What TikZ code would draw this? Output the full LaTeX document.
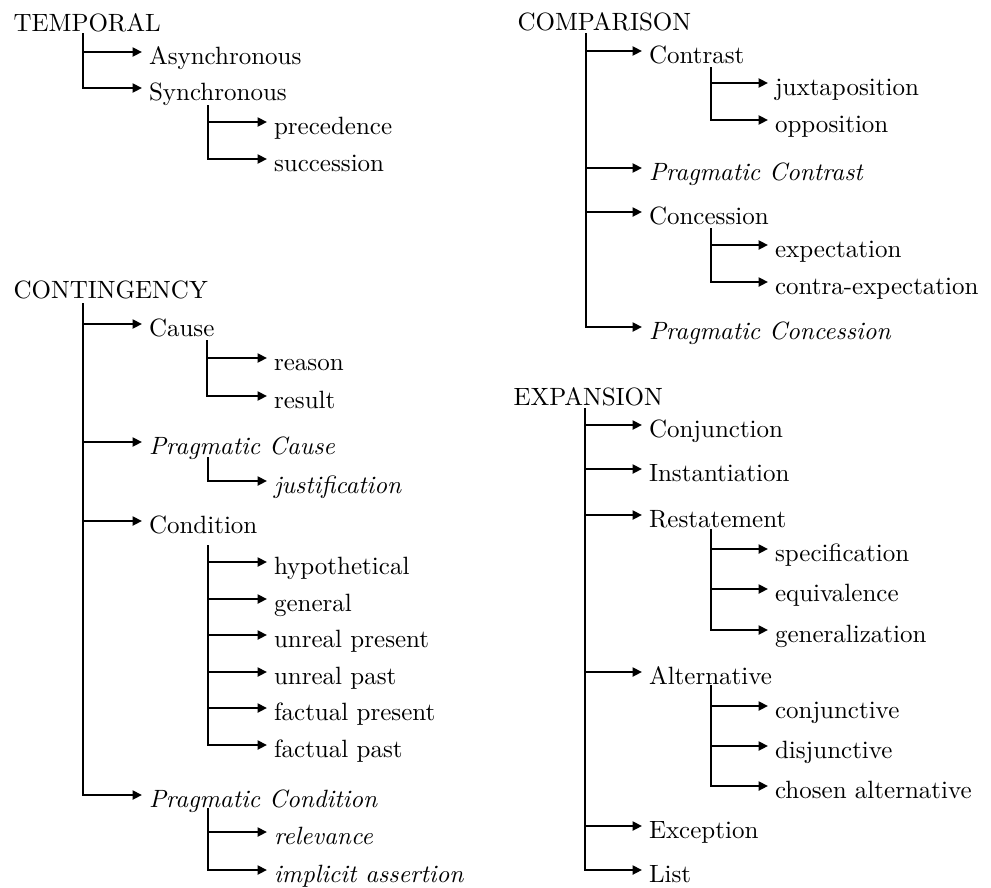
\documentclass[tikz,border=0pt]{standalone}
\usetikzlibrary{arrows.meta}
\begin{document}
\begin{tikzpicture}[x=0.4pt,y=-0.4pt,
  root/.style={anchor=base west, inner sep=0pt},
  lbl/.style={anchor=west, inner xsep=2.6pt, inner ysep=0pt, text height=9.6pt, text depth=0pt},
  link/.style={line width=1pt, -{Triangle[length=3.8pt,width=3.6pt]}}]
\useasboundingbox (0,0) rectangle (991,887);
% TEMPORAL
\node[root] (tem) at (13,31) {TEMPORAL};
\coordinate (temT) at (83,33);
\node[lbl] (asyn) at (142,52) {Asynchronous};
\node[lbl] (syn) at (142,88) {Synchronous};
\coordinate (synT) at (208,105);
\node[lbl] (prec) at (267,122) {precedence};
\node[lbl] (succ) at (267,159) {succession};
\foreach \n in {asyn,syn} \draw[link] (temT) |- (\n.west);
\foreach \n in {prec,succ} \draw[link] (synT) |- (\n.west);
% CONTINGENCY
\node[root] (con) at (13,298) {CONTINGENCY};
\coordinate (conT) at (83,303);
\node[lbl] (cause) at (142,324) {Cause};
\coordinate (causeT) at (207,340);
\node[lbl] (reason) at (267,358) {reason};
\node[lbl] (result) at (267,396) {result};
\node[lbl] (pcause) at (142,442) {\textit{Pragmatic Cause}};
\coordinate (pcauseT) at (208,457);
\node[lbl] (justif) at (267,481) {\textit{justification}};
\node[lbl] (cond) at (142,521) {Condition};
\coordinate (condT) at (208,545);
\node[lbl] (hyp) at (267,562) {hypothetical};
\node[lbl] (gen) at (267,599) {general};
\node[lbl] (urpres) at (267,635) {unreal present};
\node[lbl] (urpast) at (267,672) {unreal past};
\node[lbl] (fpres) at (267,708) {factual present};
\node[lbl] (fpast) at (267,745) {factual past};
\node[lbl] (pcond) at (142,795) {\textit{Pragmatic Condition}};
\coordinate (pcondT) at (208,808);
\node[lbl] (relev) at (267,832) {\textit{relevance}};
\node[lbl] (impl) at (267,870) {\textit{implicit assertion}};
\foreach \n in {cause,pcause,cond,pcond} \draw[link] (conT) |- (\n.west);
\foreach \n in {reason,result} \draw[link] (causeT) |- (\n.west);
\draw[link] (pcauseT) |- (justif.west);
\foreach \n in {hyp,gen,urpres,urpast,fpres,fpast} \draw[link] (condT) |- (\n.west);
\foreach \n in {relev,impl} \draw[link] (pcondT) |- (\n.west);
% COMPARISON
\node[root] (cmp) at (517,30) {COMPARISON};
\coordinate (cmpT) at (586,33);
\node[lbl] (contrast) at (642,51) {Contrast};
\coordinate (contrastT) at (711,67);
\node[lbl] (juxt) at (768,83) {juxtaposition};
\node[lbl] (oppo) at (768,120) {opposition};
\node[lbl] (pcontrast) at (642,168) {\textit{Pragmatic Contrast}};
\node[lbl] (conc) at (642,212) {Concession};
\coordinate (concT) at (711,228);
\node[lbl] (expect) at (768,245) {expectation};
\node[lbl] (contra) at (768,282) {contra-expectation};
\node[lbl] (pconc) at (642,327) {\textit{Pragmatic Concession}};
\foreach \n in {contrast,pcontrast,conc,pconc} \draw[link] (cmpT) |- (\n.west);
\foreach \n in {juxt,oppo} \draw[link] (contrastT) |- (\n.west);
\foreach \n in {expect,contra} \draw[link] (concT) |- (\n.west);
% EXPANSION
\node[root] (exp) at (513,405) {EXPANSION};
\coordinate (expT) at (585,408);
\node[lbl] (conj) at (642,425) {Conjunction};
\node[lbl] (inst) at (642,469) {Instantiation};
\node[lbl] (rest) at (642,515) {Restatement};
\coordinate (restT) at (711,529);
\node[lbl] (spec) at (768,549) {specification};
\node[lbl] (equiv) at (768,589) {equivalence};
\node[lbl] (gener) at (768,630) {generalization};
\node[lbl] (alt) at (642,672) {Alternative};
\coordinate (altT) at (711,685);
\node[lbl] (conjv) at (768,706) {conjunctive};
\node[lbl] (disj) at (768,746) {disjunctive};
\node[lbl] (chosen) at (768,786) {chosen alternative};
\node[lbl] (exc) at (642,826) {Exception};
\node[lbl] (list) at (642,870) {List};
\foreach \n in {conj,inst,rest,alt,exc,list} \draw[link] (expT) |- (\n.west);
\foreach \n in {spec,equiv,gener} \draw[link] (restT) |- (\n.west);
\foreach \n in {conjv,disj,chosen} \draw[link] (altT) |- (\n.west);
\end{tikzpicture}
\end{document}
